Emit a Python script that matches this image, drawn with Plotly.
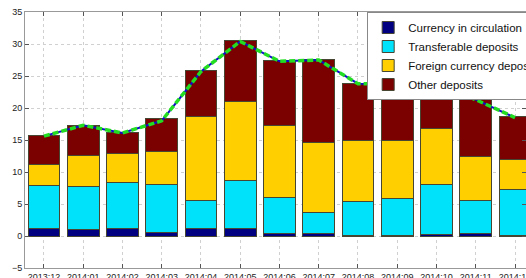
import plotly.graph_objects as go

months = ["2013:12", "2014:01", "2014:02", "2014:03", "2014:04", "2014:05", "2014:06",
          "2014:07", "2014:08", "2014:09", "2014:10", "2014:11", "2014:12"]
currency = [1.1, 1.0, 1.1, 0.5, 1.1, 1.1, 0.35, 0.45, 0.1, 0.1, 0.25, 0.45, 0.15]
transferable = [6.75, 6.7, 7.3, 7.6, 4.5, 7.55, 5.7, 3.2, 5.3, 5.75, 7.85, 5.15, 7.1]
foreign = [3.3, 4.85, 4.5, 5.1, 13.1, 12.35, 11.25, 10.95, 9.55, 9.15, 8.7, 6.9, 4.65]
other = [4.55, 4.75, 3.25, 5.1, 7.2, 9.5, 10.1, 13.0, 8.9, 8.85, 7.05, 8.9, 6.75]
total = [15.6, 17.3, 16.1, 18.0, 25.7, 30.4, 27.3, 27.5, 23.8, 23.8, 23.7, 21.3, 18.5]
yticks = [-5, 0, 5, 10, 15, 20, 25, 30, 35]

idx = list(range(len(months)))
edge = dict(color="rgb(70,70,50)", width=1)

fig = go.Figure()
series = [
    ("Currency in circulation", currency, "#000080"),
    ("Transferable deposits", transferable, "#00E1FA"),
    ("Foreign currency deposits", foreign, "#FFCF00"),
    ("Other deposits", other, "#7B0000"),
]
for name, vals, col in series:
    fig.add_trace(go.Bar(x=idx, y=vals, name=name, marker=dict(color=col, line=edge)))

fig.add_trace(go.Scatter(x=idx, y=total, mode="lines", showlegend=False,
                         line=dict(color="#1010C8", width=2)))
fig.add_trace(go.Scatter(x=idx, y=total, mode="lines", showlegend=False,
                         line=dict(color="#22DD22", width=3.5, dash="6px,3px")))

fig.update_layout(
    width=526, height=278,
    margin=dict(l=25, r=0, t=12, b=10, autoexpand=False),
    barmode="stack", bargap=0.19,
    plot_bgcolor="white", paper_bgcolor="white",
    font=dict(family="Liberation Sans, Arial, sans-serif", size=9, color="#222"),
    legend=dict(x=0.683, y=1.0, xanchor="left", yanchor="top",
                bgcolor="white", bordercolor="#888", borderwidth=1,
                font=dict(size=11.5, color="#111"), tracegroupgap=0,
                traceorder="normal", itemwidth=30),
    showlegend=True,
)
fig.update_xaxes(
    range=[-0.483, 12.28], tickmode="array", tickvals=idx, ticktext=months,
    showgrid=True, gridcolor="#d0d0d0", griddash="dot", gridwidth=1,
    showline=True, linecolor="#999", linewidth=1, mirror="ticks",
    ticks="inside", ticklen=4, tickcolor="#555", zeroline=False,
    ticklabelstandoff=0, ticklabeloverflow="allow", automargin=False,
)
fig.update_yaxes(
    range=[-5, 35], tickmode="array", tickvals=yticks,
    showgrid=True, gridcolor="#d0d0d0", griddash="dot", gridwidth=1,
    showline=True, linecolor="#999", linewidth=1, mirror="ticks",
    ticks="inside", ticklen=4, tickcolor="#555", zeroline=False,
    ticklabeloverflow="allow", automargin=False,
)

fig.write_html("out.html", config={"displayModeBar": False},
               post_script="document.body.style.margin='0';document.body.style.overflow='hidden';")
